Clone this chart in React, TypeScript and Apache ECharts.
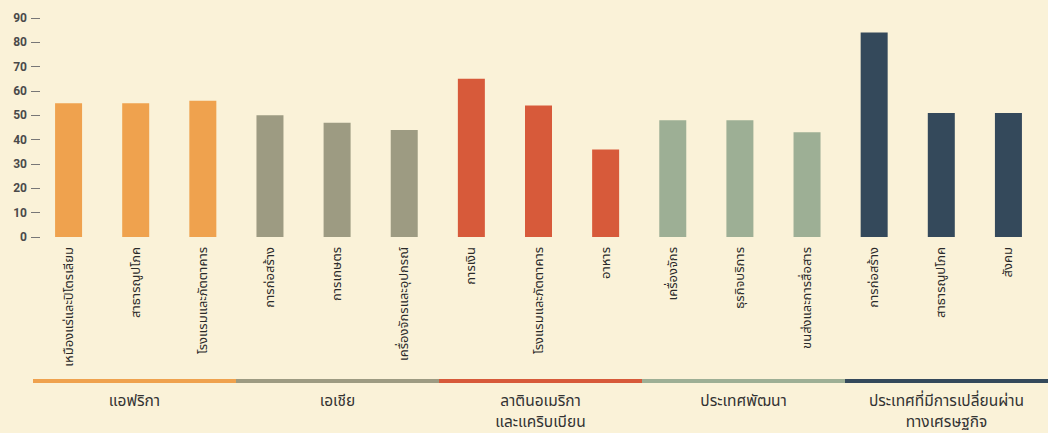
import React, { useEffect, useRef } from "react";
import * as echarts from "echarts";

const categories = [
  "เหมืองแร่และปิโตรเลียม",
  "สาธารณูปโภค",
  "โรงแรมและภัตตาคาร",
  "การก่อสร้าง",
  "การเกษตร",
  "เครื่องจักรและอุปกรณ์",
  "การเงิน",
  "โรงแรมและภัตตาคาร",
  "อาหาร",
  "เครื่องจักร",
  "ธุรกิจบริการ",
  "ขนส่งและการสื่อสาร",
  "การก่อสร้าง",
  "สาธารณูปโภค",
  "สังคม",
];
const values = [55, 55, 56, 50, 47, 44, 65, 54, 36, 48, 48, 43, 84, 51, 51];
const groupOfBar = [0, 0, 0, 1, 1, 1, 2, 2, 2, 3, 3, 3, 4, 4, 4];
const groups = [
  "แอฟริกา",
  "เอเชีย",
  "ลาตินอเมริกา\nและแคริบเบียน",
  "ประเทศพัฒนา",
  "ประเทศที่มีการเปลี่ยนผ่าน\nทางเศรษฐกิจ",
];
const groupStrip = [1, 1, 1, 1, 1];
const groupColors = ["#EFA24E", "#9D9B82", "#D75A3A", "#9DAF95", "#34495B"];
const yTicks = { min: 0, max: 90, interval: 10 };

const FONT = "'Noto Sans Thai', 'Noto Sans', 'DejaVu Sans', sans-serif";

export default function App() {
  const ref = useRef<HTMLDivElement>(null);
  useEffect(() => {
    if (!ref.current) return;
    const chart = echarts.init(ref.current, undefined, { renderer: "svg" });
    chart.setOption({
      animation: false,
      backgroundColor: "#FAF2D8",
      grid: [
        { left: 35, right: 6, top: 18, bottom: 196 },
        { left: 33, right: 0, top: 379, height: 8 },
      ],
      xAxis: [
        {
          type: "category",
          gridIndex: 0,
          data: categories,
          axisLine: { show: false },
          axisTick: { show: false },
          axisLabel: {
            rotate: 90,
            margin: 10,
            fontSize: 13,
            color: "#2a2a2a",
            fontFamily: FONT,
          },
        },
        {
          type: "category",
          gridIndex: 1,
          data: groups,
          axisLine: { show: false },
          axisTick: { show: false },
          axisLabel: {
            margin: 8,
            fontSize: 15.5,
            lineHeight: 21,
            color: "#333",
            fontFamily: FONT,
            interval: 0,
          },
        },
      ],
      yAxis: [
        {
          type: "value",
          gridIndex: 0,
          min: yTicks.min,
          max: yTicks.max,
          interval: yTicks.interval,
          offset: -5,
          splitLine: { show: false },
          axisLine: { show: false },
          axisTick: { show: true, length: 9, lineStyle: { color: "#777", width: 1 } },
          axisLabel: {
            margin: 13,
            fontSize: 12,
            fontWeight: "bold",
            color: "#4a4a4a",
            fontFamily: "Roboto, sans-serif",
          },
        },
        {
          type: "value",
          gridIndex: 1,
          min: 0,
          max: 1,
          show: false,
        },
      ],
      series: [
        {
          type: "bar",
          xAxisIndex: 0,
          yAxisIndex: 0,
          barWidth: 27,
          data: values.map((v, i) => ({
            value: v,
            itemStyle: { color: groupColors[groupOfBar[i]] },
          })),
        },
        {
          type: "bar",
          xAxisIndex: 1,
          yAxisIndex: 1,
          barWidth: "100%",
          barCategoryGap: 0,
          data: groupStrip.map((v, i) => ({
            value: v,
            itemStyle: { color: groupColors[i] },
          })),
        },
      ],
    });
    return () => chart.dispose();
  }, []);
  return (
    <div
      ref={ref}
      style={{ position: "fixed", left: 0, top: 0, width: 1048, height: 433 }}
    />
  );
}
